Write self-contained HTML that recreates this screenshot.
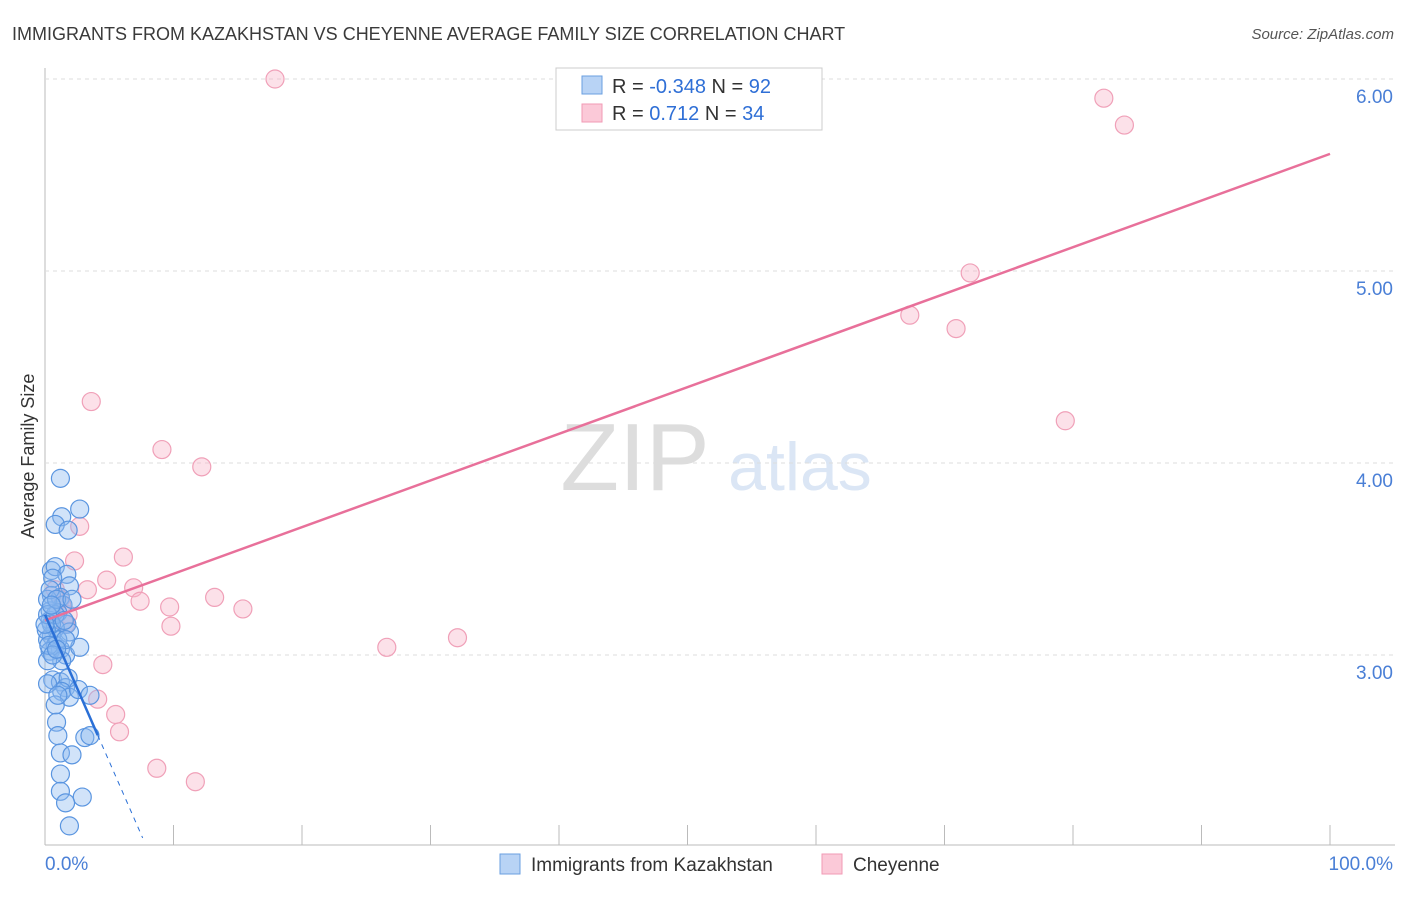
<!DOCTYPE html>
<html><head><meta charset="utf-8"><style>
body{margin:0;width:1406px;height:892px;background:#fff;font-family:"Liberation Sans",sans-serif;overflow:hidden}
svg text{font-family:"Liberation Sans",sans-serif}
</style></head><body>
<svg id="chart" width="1406" height="892" xmlns="http://www.w3.org/2000/svg">
<text x="12" y="40" font-size="18" fill="#3a3a3a">IMMIGRANTS FROM KAZAKHSTAN VS CHEYENNE AVERAGE FAMILY SIZE CORRELATION CHART</text>
<text x="1394" y="39" font-size="15" fill="#555" text-anchor="end" font-style="italic">Source: ZipAtlas.com</text>
<text transform="translate(34,456) rotate(-90)" font-size="18" fill="#333" text-anchor="middle">Average Family Size</text>
<g><text x="635" y="490" font-size="96" fill="#ddd" text-anchor="middle" font-family="Liberation Serif">ZIP</text><text x="800" y="490" font-size="68" fill="#dbe6f5" text-anchor="middle">atlas</text></g>
<g id="grid"></g><g id="marks"></g>
<g>
<rect x="556" y="68" width="266" height="62" fill="#fff" stroke="#ccc"/>
<rect x="582" y="76" width="20" height="18" fill="#b8d3f5" stroke="#6a9fe0"/>
<rect x="582" y="104" width="20" height="18" fill="#fbc9d8" stroke="#f29ab5"/>
<text x="612" y="93" font-size="20" fill="#333">R = <tspan fill="#2f6fd6">-0.348</tspan>   N = <tspan fill="#2f6fd6">92</tspan></text>
<text x="612" y="120" font-size="20" fill="#333">R =   <tspan fill="#2f6fd6">0.712</tspan>   N = <tspan fill="#2f6fd6">34</tspan></text>
</g>
<g>
<rect x="500" y="854" width="20" height="20" fill="#b8d3f5" stroke="#6a9fe0"/>
<text x="531" y="871" font-size="19" fill="#333">Immigrants from Kazakhstan</text>
<rect x="822" y="854" width="20" height="20" fill="#fbc9d8" stroke="#f29ab5"/>
<text x="853" y="871" font-size="19" fill="#333">Cheyenne</text>
</g>
</svg>
<script>
const yTicks=[3,4,5,6];
const yTickLabels=["3.00","4.00","5.00","6.00"];
const xTicks=[0,10,20,30,40,50,60,70,80,90,100];
const blueX=[1.2,1.3,2.7,0.8,1.8,0.5,0.8,1.7,0.6,1.9,0.5,1.2,1.4,0.4,1.0,1.7,1.9,0.4,0.8,0.5,0.2,0.8,1.2,1.6,2.7,0.4,0.6,1.2,1.6,1.8,1.3,1.9,2.6,3.5,0.8,0.9,1.0,3.1,3.5,1.2,2.1,1.2,1.2,2.9,1.6,1.9,0.2,0.4,0.8,1.0,1.3,0.2,0.5,0.9,1.5,0.1,0.3,0.6,1.6,2.1,0.2,0.5,0,0.9,0.2,1.0];
const blueY=[3.92,3.72,3.76,3.68,3.65,3.44,3.46,3.42,3.40,3.36,3.31,3.30,3.26,3.23,3.22,3.16,3.12,3.18,3.14,3.10,3.08,3.05,3.03,3.00,3.04,3.02,2.87,2.86,2.83,2.88,2.81,2.78,2.82,2.79,2.74,2.65,2.58,2.57,2.58,2.49,2.48,2.38,2.29,2.26,2.23,2.11,3.29,3.34,3.21,3.08,2.97,2.97,3.16,3.29,3.18,3.13,3.05,3.00,3.08,3.29,3.21,3.26,3.16,3.03,2.85,2.79];
const pinkX=[17.9,82.4,84.0,72.0,67.3,70.9,79.4,3.6,9.1,12.2,2.7,2.3,6.1,4.8,3.3,6.9,7.4,9.7,13.2,15.4,9.8,32.1,26.6,4.5,4.1,5.5,5.8,8.7,11.7,1.2,1.3,1.8,0.8,1.6];
const pinkY=[6.00,5.90,5.76,4.99,4.77,4.70,4.22,4.32,4.07,3.98,3.67,3.49,3.51,3.39,3.34,3.35,3.28,3.25,3.30,3.24,3.15,3.09,3.04,2.95,2.77,2.69,2.60,2.41,2.34,3.29,3.26,3.21,3.34,3.16];
const pinkTrend=[3.18,5.61];
const blueTrend=[3.21,-0.153];
const blueSolidEnd=4.1, blueDashEnd=7.6;
const X=p=>45+p*12.85, Y=v=>655-(v-3)*192;
const NS="http://www.w3.org/2000/svg";
const g=document.getElementById('grid'), m=document.getElementById('marks');
function mk(tag,at,par){const e=document.createElementNS(NS,tag);for(const k in at)e.setAttribute(k,at[k]);par.appendChild(e);return e;}
let ax=mk('line',{x1:45,y1:68,x2:45,y2:845,stroke:'#bbb'},g);


let bx=mk('line',{x1:45,y1:845,x2:1395,y2:845,stroke:'#bbb'},g);


yTicks.forEach((v,i)=>{
 let l=mk('line',{x1:45,x2:1395,y1:Y(v),y2:Y(v),stroke:'#ddd','stroke-dasharray':'4,4'},g);
 
 
 let t=mk('text',{x:1393,y:Y(v)+24,'font-size':19,fill:'#4a7fd6','text-anchor':'end'},g);t.textContent=yTickLabels[i];
 
 
});
xTicks.forEach(p=>{if(p===0)return;
 let l=mk('line',{x1:X(p),x2:X(p),y1:825,y2:845,stroke:'#bbb'},g);
 
 
});
[["0.0%",45,'start'],["100.0%",1393,'end']].forEach(a=>{let t=mk('text',{x:a[1],y:870,'font-size':19,fill:'#4a7fd6','text-anchor':a[2]},g);t.textContent=a[0];
 
 });
pinkX.forEach((x,i)=>{let c=mk('circle',{cx:X(x),cy:Y(pinkY[i]),r:9,fill:'rgba(248,180,200,0.4)',stroke:'#f0a0b8','stroke-width':1.2},m);
 
 });
blueX.forEach((x,i)=>{let c=mk('circle',{cx:X(x),cy:Y(blueY[i]),r:9,fill:'rgba(140,185,240,0.4)',stroke:'#5a95e0','stroke-width':1.2},m);
 
 });
let pl=mk('line',{x1:X(0),y1:Y(pinkTrend[0]),x2:X(100),y2:Y(pinkTrend[1]),stroke:'#e8709a','stroke-width':2.5},m);


let bl=mk('line',{x1:X(0),y1:Y(blueTrend[0]),x2:X(blueSolidEnd),y2:Y(blueTrend[0]+blueTrend[1]*blueSolidEnd),stroke:'#2a6fd6','stroke-width':2.5},m);


let bd=mk('line',{x1:X(blueSolidEnd),y1:Y(blueTrend[0]+blueTrend[1]*blueSolidEnd),x2:X(blueDashEnd),y2:Y(blueTrend[0]+blueTrend[1]*blueDashEnd),stroke:'#2a6fd6','stroke-width':1,'stroke-dasharray':'5,5'},m);


</script>
</body></html>
